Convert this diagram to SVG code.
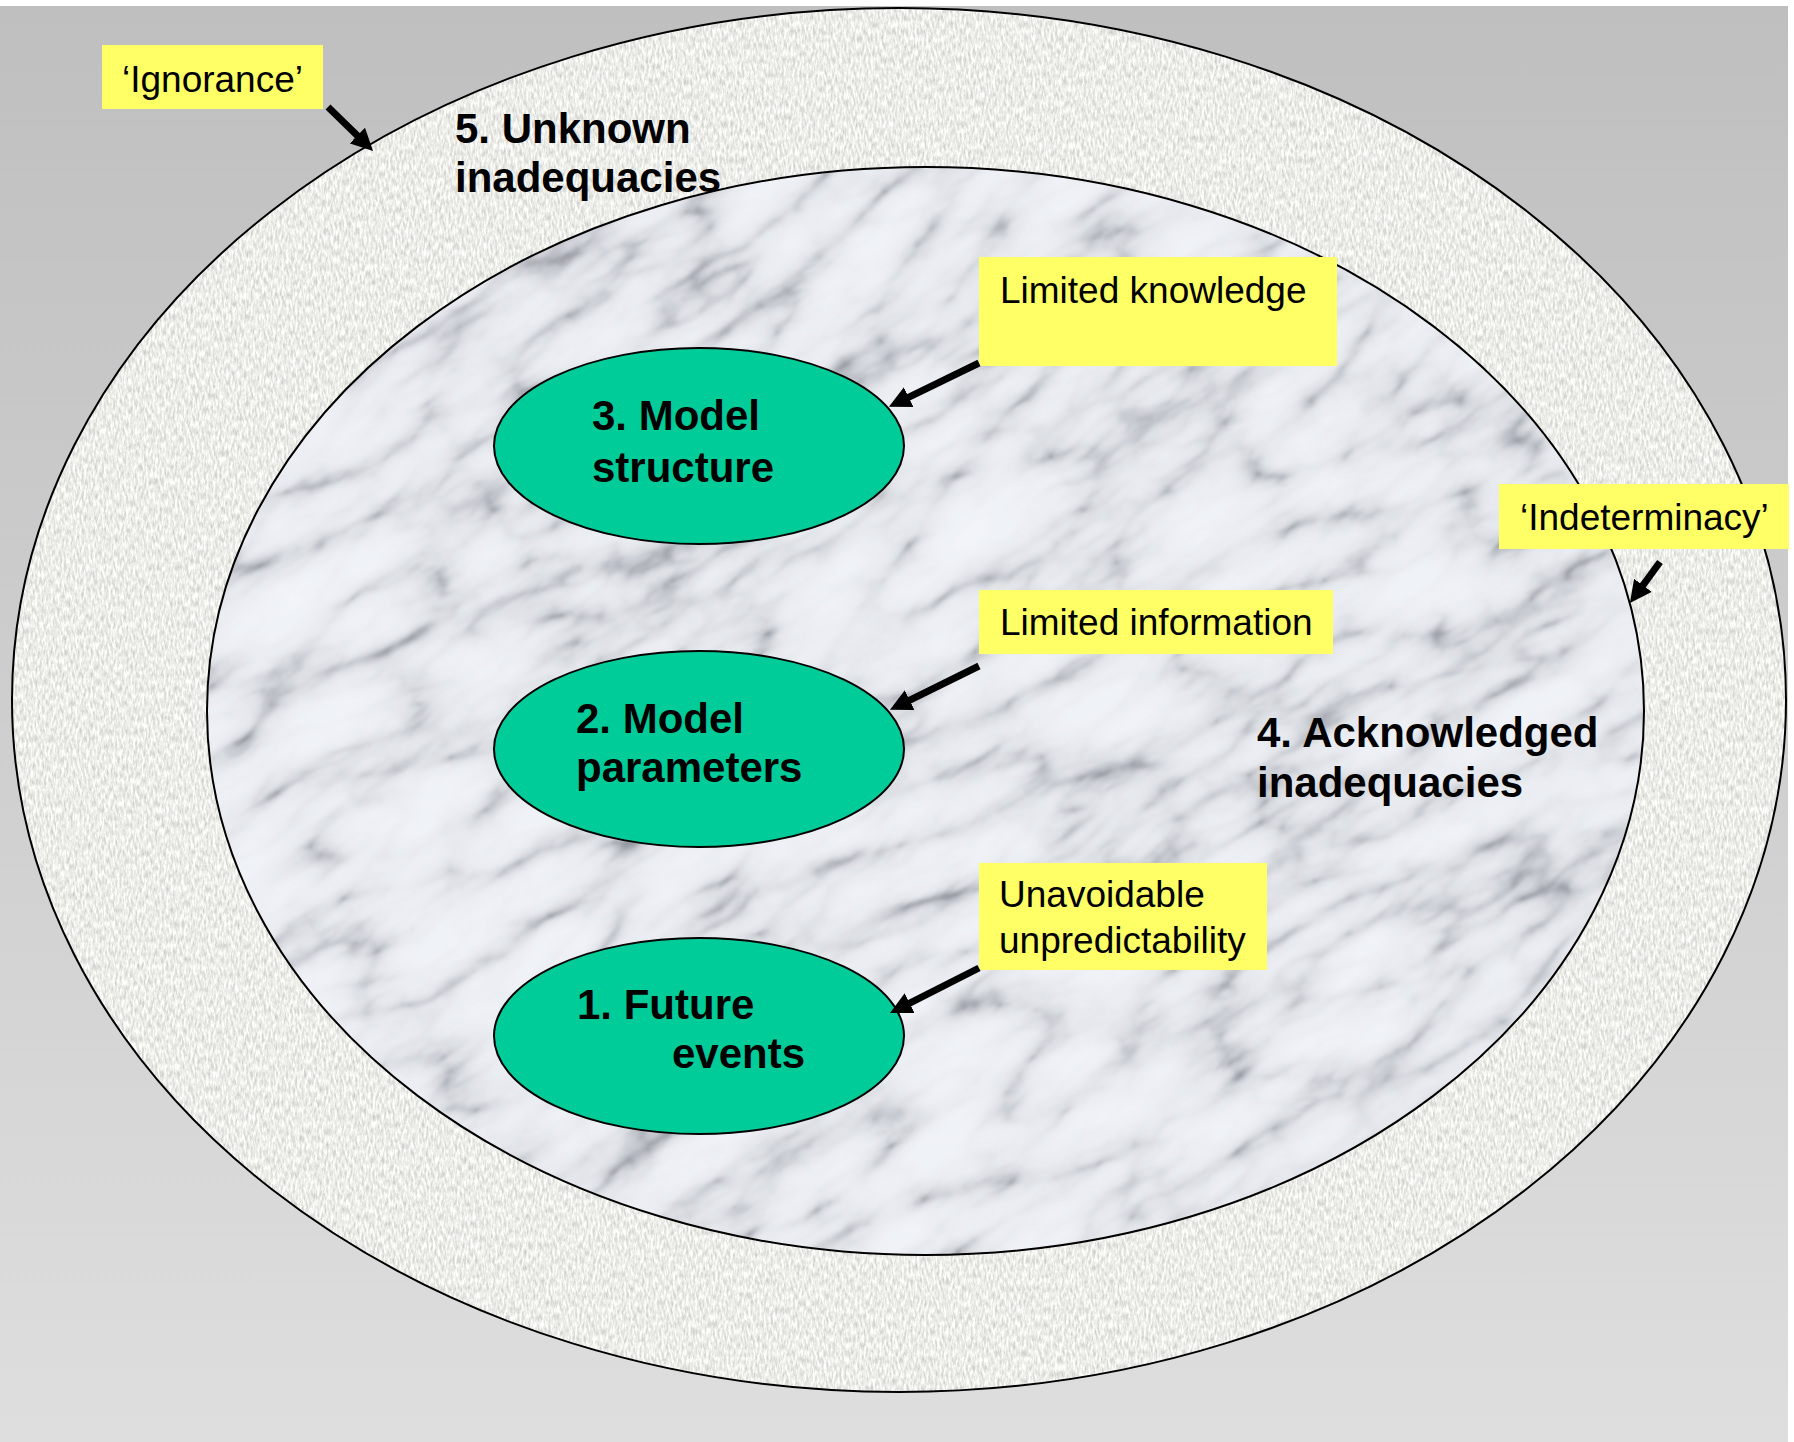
<svg xmlns="http://www.w3.org/2000/svg" width="1794" height="1442" viewBox="0 0 1794 1442">
  <style>
    .box { fill: #ffff66; }
    .boxtext { font-family: "Liberation Sans", Arial, sans-serif; font-size: 37px; fill: #000; }
    .label { font-family: "Liberation Sans", Arial, sans-serif; font-size: 42px; font-weight: bold; fill: #000; }
    .ring { fill: none; stroke: #000; stroke-width: 2; }
    .node { fill: #00cc99; stroke: #000; stroke-width: 2; }
    .arrow { stroke: #000; stroke-width: 7; fill: none; marker-end: url(#head); }
  </style>
  <defs>
    <linearGradient id="bg" x1="0" y1="0" x2="0" y2="1">
      <stop offset="0" stop-color="#bfbfbf"/>
      <stop offset="1" stop-color="#dedede"/>
    </linearGradient>
    <marker id="head" markerUnits="userSpaceOnUse" markerWidth="22" markerHeight="22" refX="6" refY="11" orient="auto" viewBox="0 0 22 22">
      <path d="M0,0 L22,11 L0,22 z" fill="#000"/>
    </marker>
    <clipPath id="outerClip">
      <ellipse cx="899" cy="700" rx="887" ry="692"/>
    </clipPath>
    <clipPath id="innerClip">
      <ellipse cx="925.5" cy="711" rx="718.5" ry="544"/>
    </clipPath>
    <filter id="grain" x="0" y="0" width="100%" height="100%" color-interpolation-filters="sRGB">
      <feTurbulence type="fractalNoise" baseFrequency="0.45 0.14" numOctaves="3" seed="7"/>
      <feColorMatrix type="matrix" values="0.35 0 0 0 0.75  0.35 0 0 0 0.75  0.35 0 0 0 0.735  0 0 0 0 1"/>
    </filter>
    <filter id="marble" x="0" y="0" width="100%" height="100%" color-interpolation-filters="sRGB">
      <feTurbulence type="turbulence" baseFrequency="0.006 0.016" numOctaves="5" seed="11" result="t"/>
      <feColorMatrix in="t" type="matrix" values="1 0 0 0 0  1 0 0 0 0  1 0 0 0 0  0 0 0 0 1" result="g"/>
      <feTurbulence type="fractalNoise" baseFrequency="0.01 0.02" numOctaves="3" seed="4" result="p"/>
      <feColorMatrix in="p" type="matrix" values="1 0 0 0 0  1 0 0 0 0  1 0 0 0 0  0 0 0 0 1" result="pg"/>
      <feComposite in="g" in2="pg" operator="arithmetic" k1="0" k2="1" k3="0.35" k4="-0.12" result="mix"/>
      <feComponentTransfer in="mix">
        <feFuncR type="table" tableValues="0.58 0.76 0.86 0.9 0.92 0.93 0.94 0.94 0.95"/>
        <feFuncG type="table" tableValues="0.59 0.77 0.87 0.91 0.93 0.94 0.95 0.95 0.96"/>
        <feFuncB type="table" tableValues="0.62 0.8 0.89 0.93 0.95 0.96 0.97 0.97 0.98"/>
      </feComponentTransfer>
      <feGaussianBlur stdDeviation="1.6"/>
    </filter>
  </defs>

  <rect x="0" y="0" width="1794" height="1442" fill="#ffffff"/>
  <rect x="0" y="6" width="1788" height="1436" fill="url(#bg)"/>

  <g id="region5">
    <g clip-path="url(#outerClip)">
      <rect x="0" y="0" width="1794" height="1442" filter="url(#grain)"/>
    </g>
    <ellipse class="ring" cx="899" cy="700" rx="887" ry="692"/>
  </g>

  <g id="region4">
    <g clip-path="url(#innerClip)">
      <g transform="rotate(-32 925 711)">
        <rect x="-200" y="-300" width="2300" height="2000" filter="url(#marble)"/>
      </g>
    </g>
    <ellipse class="ring" cx="925.5" cy="711" rx="718.5" ry="544"/>
  </g>

  <g id="label5">
    <text class="label" x="455" y="143">5. Unknown</text>
    <text class="label" x="455" y="192">inadequacies</text>
  </g>
  <g id="label4">
    <text class="label" x="1257" y="747">4. Acknowledged</text>
    <text class="label" x="1257" y="797">inadequacies</text>
  </g>

  <g id="node3">
    <ellipse class="node" cx="699" cy="446" rx="205" ry="98"/>
    <text class="label" x="592" y="430">3. Model</text>
    <text class="label" x="592" y="482">structure</text>
  </g>
  <g id="node2">
    <ellipse class="node" cx="699" cy="749" rx="205" ry="98"/>
    <text class="label" x="576" y="733">2. Model</text>
    <text class="label" x="576" y="782">parameters</text>
  </g>
  <g id="node1">
    <ellipse class="node" cx="699" cy="1036" rx="205" ry="98"/>
    <text class="label" x="577" y="1019">1. Future</text>
    <text class="label" x="672" y="1068">events</text>
  </g>

  <g id="box-ignorance">
    <rect class="box" x="102" y="45" width="221" height="64"/>
    <text class="boxtext" x="212.5" y="92" text-anchor="middle">‘Ignorance’</text>
  </g>
  <g id="box-knowledge">
    <rect class="box" x="979" y="257" width="358" height="109"/>
    <text class="boxtext" x="1000" y="303">Limited knowledge</text>
  </g>
  <g id="box-information">
    <rect class="box" x="979" y="590" width="354" height="64"/>
    <text class="boxtext" x="1000" y="635">Limited information</text>
  </g>
  <g id="box-unavoidable">
    <rect class="box" x="979" y="863" width="288" height="107"/>
    <text class="boxtext" x="999" y="907">Unavoidable</text>
    <text class="boxtext" x="999" y="953">unpredictability</text>
  </g>
  <g id="box-indeterminacy">
    <rect class="box" x="1499" y="484" width="290" height="65"/>
    <text class="boxtext" x="1520" y="530">‘Indeterminacy’</text>
  </g>

  <g id="connectors">
    <line class="arrow" x1="328" y1="107" x2="361.6" y2="139.8"/>
    <line class="arrow" x1="979" y1="363" x2="903.3" y2="399.8"/>
    <line class="arrow" x1="979" y1="666" x2="904.3" y2="702.8"/>
    <line class="arrow" x1="979" y1="968" x2="904.3" y2="1005.8"/>
    <line class="arrow" x1="1660" y1="562" x2="1639.4" y2="590.1"/>
  </g>
</svg>
